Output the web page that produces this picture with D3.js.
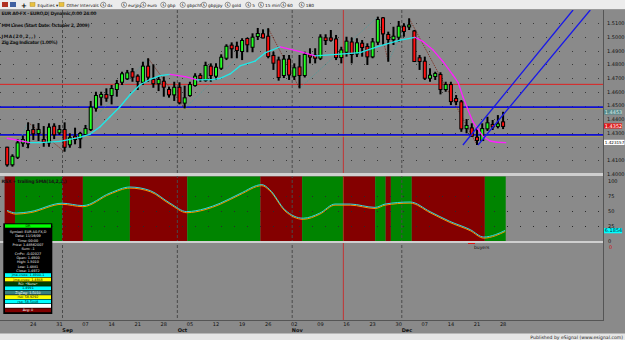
<!DOCTYPE html>
<html>
<head>
<meta charset="utf-8">
<script src="https://cdn.jsdelivr.net/npm/d3@7/dist/d3.min.js"></script>
<style>
body{margin:0;background:#8a8a8a;overflow:hidden}
text{font-family:"DejaVu Sans",sans-serif}
</style>
</head>
<body>
<svg id="chart" width="625" height="340"></svg>
<script>
// daily EUR candles, Aug 17 .. Dec 28 (index 0..95)
var opens  = [1.4193,1.4072,1.4127,1.4230,1.4225,1.4322,1.4300,1.4249,1.4232,1.4346,1.4305,1.4322,1.4218,1.4273,1.4262,1.4293,1.4329,1.4485,1.4565,1.4577,
              1.4577,1.4621,1.4674,1.4699,1.4743,1.4711,1.4674,1.4784,1.4687,1.4663,1.4674,1.4614,1.4582,1.4630,1.4522,1.4577,1.4650,1.4716,1.4687,1.4784,
              1.4718,1.4776,1.4849,1.4937,1.4929,1.4898,1.4986,1.4929,1.5007,1.5020,1.5002,1.4862,1.4829,1.4723,1.4835,1.4717,1.4778,1.4723,1.4866,1.4864,
              1.4849,1.4991,1.4990,1.4982,1.4854,1.4893,1.4960,1.4881,1.4951,1.4927,1.4859,1.4966,1.5136,1.5015,1.4985,1.5002,1.5075,1.5077,1.5040,1.4845,
              1.4820,1.4703,1.4716,1.4723,1.4621,1.4650,1.4548,1.4524,1.4336,1.4334,1.4266,1.4249,1.4334,1.4359,1.4352,1.4378];
var highs  = [1.4200,1.4145,1.4256,1.4281,1.4378,1.4364,1.4373,1.4351,1.4371,1.4371,1.4359,1.4378,1.4298,1.4339,1.4309,1.4359,1.4534,1.4601,1.4601,1.4626,
              1.4650,1.4687,1.4747,1.4760,1.4774,1.4728,1.4820,1.4845,1.4801,1.4711,1.4711,1.4638,1.4674,1.4670,1.4645,1.4674,1.4736,1.4736,1.4820,1.4808,
              1.4808,1.4874,1.4947,1.4961,1.4966,1.4991,1.4995,1.5027,1.5066,1.5056,1.5064,1.4893,1.4857,1.4869,1.4869,1.4808,1.4869,1.4893,1.4918,1.4918,
              1.5020,1.5020,1.5051,1.5015,1.4929,1.5002,1.4996,1.4991,1.4978,1.4954,1.4993,1.5148,1.5146,1.5039,1.5075,1.5117,1.5100,1.5136,1.5051,1.4869,
              1.4857,1.4772,1.4747,1.4743,1.4674,1.4674,1.4577,1.4541,1.4402,1.4371,1.4334,1.4371,1.4419,1.4395,1.4431,1.4455];
var lows   = [1.4055,1.4055,1.4111,1.4200,1.4189,1.4249,1.4242,1.4200,1.4200,1.4256,1.4286,1.4164,1.4193,1.4218,1.4189,1.4286,1.4315,1.4456,1.4500,1.4528,
              1.4509,1.4565,1.4650,1.4687,1.4674,1.4614,1.4650,1.4674,1.4630,1.4606,1.4565,1.4558,1.4534,1.4509,1.4480,1.4565,1.4638,1.4674,1.4674,1.4674,
              1.4687,1.4760,1.4832,1.4845,1.4845,1.4832,1.4889,1.4889,1.4978,1.4990,1.4845,1.4760,1.4682,1.4701,1.4687,1.4687,1.4626,1.4705,1.4808,1.4808,
              1.4832,1.4942,1.4966,1.4832,1.4808,1.4857,1.4808,1.4854,1.4857,1.4796,1.4845,1.4942,1.4942,1.4820,1.4942,1.4966,1.5002,1.5051,1.4818,1.4760,
              1.4687,1.4674,1.4687,1.4582,1.4601,1.4504,1.4504,1.4309,1.4298,1.4273,1.4213,1.4242,1.4315,1.4322,1.4334,1.4329];
var closes = [1.4072,1.4127,1.4225,1.4249,1.4315,1.4298,1.4322,1.4237,1.4339,1.4291,1.4322,1.4200,1.4262,1.4256,1.4293,1.4329,1.4485,1.4570,1.4577,1.4558,
              1.4621,1.4657,1.4728,1.4735,1.4711,1.4680,1.4784,1.4711,1.4663,1.4687,1.4638,1.4582,1.4630,1.4524,1.4553,1.4650,1.4711,1.4699,1.4789,1.4723,
              1.4776,1.4849,1.4929,1.4918,1.4905,1.4971,1.4947,1.4995,1.5022,1.4997,1.4862,1.4813,1.4708,1.4835,1.4727,1.4772,1.4723,1.4869,1.4858,1.4849,
              1.4996,1.4978,1.4980,1.4854,1.4902,1.4966,1.4876,1.4954,1.4927,1.4859,1.4961,1.5124,1.5027,1.4985,1.5002,1.5075,1.5044,1.5084,1.4825,1.4825,
              1.4703,1.4718,1.4730,1.4621,1.4650,1.4533,1.4533,1.4334,1.4351,1.4280,1.4249,1.4329,1.4371,1.4348,1.4363,1.4352];

var weekIdx    = [5,10,15,20,25,30,35,40,45,50,55,60,65,70,75,80,85,90,95];
var weekLabels = ["24","31","07","14","21","28","05","12","19","26","02","09","16","23","30","07","14","21","28"];
var monthIdx   = [11,33,55,76];
var monthNames = ["Sep","Oct","Nov","Dec"];

var priceTicks = [1.51,1.50,1.49,1.48,1.47,1.46,1.45,1.44,1.43,1.41];
var rsiTicks   = [100,75,50,25,0];

// JMA(20,2) line
var jmaIdx = [0,4.4,6.3,10.1,13.9,15.9,17.8,19.7,21.6,23.5,25.4,27.4,29.3,31.2,34.1,36.4,39.2,40.8,42.7,44.6,47.5,49.4,
              52.3,56.1,59.0,63.8,67.6,71.4,75.3,78.1,79.7,81.6,83.5,85.4,86.4,87.3,88.3,89.2,90.2,91.2,92.5,93.8,95.5];
var jmaVal = [1.4262,1.4230,1.4230,1.4239,1.4269,1.4293,1.4346,1.4419,1.4492,1.4577,1.4650,1.4692,1.4718,1.4728,1.4711,1.4687,1.4690,1.4698,1.4731,1.4789,1.4825,1.4884,
              1.4929,1.4893,1.4862,1.4876,1.4886,1.4935,1.4978,1.4998,1.4966,1.4905,1.4820,1.4723,1.4667,1.4565,1.4468,1.4383,1.4327,1.4274,1.4242,1.4233,1.4230];

// zig zag (1%) pivots
var zzIdx = [0,4,11,27,34,50,56,71,73,77,90];
var zzVal = [1.4055,1.4378,1.4164,1.4845,1.4480,1.5064,1.4626,1.5148,1.4820,1.5136,1.4213];

// MM lines
var mmVal   = [1.4655,1.4489,1.4286];
var mmColor = ["#e02020","#1010d0","#1010d0"];

// channel lines (two points each)
var chanIdxA = [87.3,108.4];
var chanIdxB = [90.2,111.7];
var chanVal  = [1.4213,1.5197];

// RSX + trailing SMA
var rsiIdx = [0,1.7,4.4,10.5,14.5,19.7,23.5,27.4,31.2,34.4,37.9,40.8,44.6,48.8,50.3,53.2,56.7,59.9,62.8,65.7,70.5,72.4,77.2,81,84.8,88.7,91.3,93.5,95.4];
var rsiVal = [50,45.6,48,62,58,79,89,83,62,48,53,62,78,93,84.5,51,37,45.6,60.6,60.6,55,60.6,64,48,31.7,18,5.6,9.5,16.7];
var regStart = [0,2,11,15,24,35,49,57,65,71,73,74,78,92];
var regEnd   = [1,10,14,23,34,48,56,64,70,72,73,77,91,95];
var regUp    = [0,1,0,1,0,1,0,1,0,1,0,1,0,1];

var cursorIdx = 64.4;

var svg = d3.select("#chart");
var x = d3.scaleLinear().domain([0,95]).range([7.2,503.1]);
var yP = d3.scaleLinear().domain([1.40,1.51]).range([174.2,23.3]);
var yR = d3.scaleLinear().domain([0,100]).range([240.7,180.7]);
var plotRight = 603;

// panes background
svg.append("rect").attr("x",0).attr("y",0).attr("width",625).attr("height",340).attr("fill","#8a8a8a");

var defs = svg.append("defs");
defs.append("clipPath").attr("id","clipMain").append("rect").attr("x",0).attr("y",10).attr("width",plotRight).attr("height",163);

// dotted grid main
svg.append("g").selectAll("line").data(d3.range(1.40,1.515,0.01)).enter().append("line")
  .attr("x1",0).attr("x2",plotRight).attr("y1",d=>Math.round(yP(d))+0.5).attr("y2",d=>Math.round(yP(d))+0.5)
  .attr("stroke","#3a3a3a").attr("stroke-dasharray","1,12").attr("stroke-width",1);

// RSI pane regions
var rsiG = svg.append("g");
rsiG.selectAll("rect").data(d3.range(regStart.length)).enter().append("rect")
  .attr("x",i=>x(regStart[i]-0.5)).attr("width",i=>x(regEnd[i]+0.5)-x(regStart[i]-0.5))
  .attr("y",176.5).attr("height",64.5)
  .attr("fill",i=>regUp[i]?"#008400":"#840000");
rsiG.selectAll(".g").data([25,50,75]).enter().append("line")
  .attr("x1",0).attr("x2",plotRight).attr("y1",d=>Math.round(yR(d))+0.5).attr("y2",d=>Math.round(yR(d))+0.5)
  .attr("stroke","#2a2a2a").attr("stroke-dasharray","1,12");

// month dividers
svg.append("g").selectAll("line").data(monthIdx).enter().append("line")
  .attr("x1",d=>x(d-0.5)+0.5).attr("x2",d=>x(d-0.5)+0.5).attr("y1",10).attr("y2",320)
  .attr("stroke","#4a4a4a").attr("stroke-dasharray","3,2");

// cursor line
svg.append("line").attr("x1",x(cursorIdx)).attr("x2",x(cursorIdx)).attr("y1",10).attr("y2",320)
  .attr("stroke","#d02020").attr("stroke-width",0.8);

var main = svg.append("g").attr("clip-path","url(#clipMain)");

// MM lines
main.selectAll(".mm").data(mmVal).enter().append("line")
  .attr("x1",0).attr("x2",plotRight).attr("y1",d=>yP(d)).attr("y2",d=>yP(d))
  .attr("stroke",(d,i)=>mmColor[i]).attr("stroke-width",(d,i)=>i==0?1:1.8);
main.selectAll(".mm2").data(mmVal.slice(1)).enter().append("line")
  .attr("x1",0).attr("x2",plotRight).attr("y1",d=>yP(d)+1.6).attr("y2",d=>yP(d)+1.6)
  .attr("stroke","#b0a050").attr("stroke-width",0.7);

// zig zag
for (var k=0;k<zzIdx.length-1;k++){
  var up = zzVal[k+1]>zzVal[k];
  main.append("line").attr("x1",x(zzIdx[k])).attr("y1",yP(zzVal[k])).attr("x2",x(zzIdx[k+1])).attr("y2",yP(zzVal[k+1]))
    .attr("stroke",up?"#4f9a9a":"#7a2a1a").attr("stroke-width",0.8).attr("stroke-dasharray","1.5,1");
}

// candles
var bars = main.selectAll(".c").data(d3.range(opens.length)).enter().append("g");
bars.append("line").attr("x1",i=>x(i)).attr("x2",i=>x(i))
  .attr("y1",i=>yP(highs[i])).attr("y2",i=>yP(lows[i]))
  .attr("stroke","#000").attr("stroke-width",2);
bars.append("rect").attr("x",i=>x(i)-1.5).attr("width",3)
  .attr("y",i=>yP(Math.max(opens[i],closes[i]))-0.5)
  .attr("height",i=>Math.abs(yP(opens[i])-yP(closes[i]))+1)
  .attr("fill",i=>closes[i]>=opens[i]?"#22ff22":"#ff1010")
  .attr("stroke","#000").attr("stroke-width",1);

// JMA coloured by slope
for (var k=0;k<jmaIdx.length-1;k++){
  main.append("line").attr("x1",x(jmaIdx[k])).attr("y1",yP(jmaVal[k])).attr("x2",x(jmaIdx[k+1])).attr("y2",yP(jmaVal[k+1]))
    .attr("stroke",jmaVal[k+1]>=jmaVal[k]?"#20e8e8":"#ff20ff").attr("stroke-width",1.3).attr("stroke-linecap","round");
}

// channel lines
[chanIdxA,chanIdxB].forEach(function(c){
  main.append("line").attr("x1",x(c[0])).attr("y1",yP(chanVal[0])).attr("x2",x(c[1])).attr("y2",yP(chanVal[1]))
    .attr("stroke","#1818e8").attr("stroke-width",1.3);
});

// RSI line
var rl = d3.line().x((d,i)=>x(rsiIdx[i])).y(d=>yR(d)).curve(d3.curveMonotoneX);
svg.append("path").attr("d",rl(rsiVal)).attr("transform","translate(0,0.8)").attr("fill","none").attr("stroke","#ff9000").attr("stroke-width",1);
svg.append("path").attr("d",rl(rsiVal)).attr("transform","translate(0,-0.3)").attr("fill","none").attr("stroke","#30d8e0").attr("stroke-width",1);

// separators
svg.append("rect").attr("x",0).attr("y",173).attr("width",plotRight).attr("height",3).attr("fill","#cfcfcf");
svg.append("rect").attr("x",0).attr("y",241).attr("width",plotRight).attr("height",2).attr("fill","#cfcfcf");
svg.append("line").attr("x1",plotRight+0.5).attr("x2",plotRight+0.5).attr("y1",10).attr("y2",321).attr("stroke","#555");
svg.append("line").attr("x1",0).attr("x2",plotRight).attr("y1",320.5).attr("y2",320.5).attr("stroke","#555");

// right axis labels
var ax = svg.append("g").attr("font-size","5px").attr("fill","#111");
ax.selectAll(".p").data(priceTicks).enter().append("text")
  .attr("x",607).attr("y",d=>yP(d)+1.8).text(d=>d.toFixed(4));
ax.append("text").attr("x",607).attr("y",176).text("1.4000");
ax.selectAll(".r").data(rsiTicks).enter().append("text")
  .attr("x",608).attr("y",d=>yR(d)+1.8).text(d=>d);

// value tags
function tag(y,txt,bg,fg,w,fs){
  svg.append("rect").attr("x",604).attr("y",y-2.6).attr("width",w).attr("height",5.2).attr("fill",bg);
  svg.append("text").attr("x",604.8).attr("y",y+1.7).attr("font-size",(fs||5)+"px").attr("fill",fg).text(txt);
}
tag(yP(1.4453),"1.4453","#5a8a8a","#d8e8e8",18);
tag(yP(closes[95]),closes[95].toFixed(4),"#e01818","#fff",18);
tag(yP(1.4232),"1.423157","#ffffff","#000",20.5,4.1);
tag(yR(16.7),"6.1854","#00ffff","#003040",18);
svg.append("text").attr("x",609).attr("y",249).attr("font-size","5px").attr("fill","#d01010").text("0");

// x axis
var xa = svg.append("g").attr("font-size","5px").attr("fill","#111").attr("text-anchor","middle");
xa.selectAll(".w").data(weekIdx).enter().append("text").attr("x",d=>x(d)).attr("y",326).text((d,i)=>weekLabels[i]);
xa.selectAll(".m").data(monthIdx).enter().append("text").attr("x",d=>x(d)+3).attr("y",332).attr("font-weight","bold").text((d,i)=>monthNames[i]);

// footer
svg.append("rect").attr("x",0).attr("y",333.5).attr("width",625).attr("height",6.5).attr("fill","#e6e6e6");
svg.append("text").attr("x",623).attr("y",339).attr("text-anchor","end").attr("font-size","4.6px").attr("fill","#222").text("Published by eSignal (www.esignal.com)");

// study titles
var tt = svg.append("g").attr("font-size","4.6px").attr("fill","#161616").attr("font-weight","bold");
tt.append("text").attr("x",1.5).attr("y",14.5).attr("textLength",95).text("EUR A0-FX - EURO,D| Dynamic,0:00 24:00");
tt.append("text").attr("x",1.5).attr("y",26.5).attr("textLength",88).text("MM Lines (Start Date: October 2, 2009)");
tt.append("text").attr("x",1.5).attr("y",37.5).attr("textLength",34).text("JMA(20,2,,)");
tt.append("text").attr("x",1.5).attr("y",44.3).attr("textLength",56).text("Zig Zag Indicator (1.00%)");
tt.append("text").attr("x",1.5).attr("y",182.8).attr("textLength",65).text("RSX + trailing SMA(14,2,2,)");
svg.append("line").attr("x1",468).attr("x2",475).attr("y1",243.5).attr("y2",243.5).attr("stroke","#e01010");
svg.append("text").attr("x",474).attr("y",248.6).attr("font-size","4.5px").attr("fill","#111").text("buyers");

// data window
var dw = svg.append("g");
dw.append("rect").attr("x",3.3).attr("y",223.3).attr("width",49).attr("height",90.7).attr("fill","#000");
var dwRows = ["Symbol: EUR A0-FX,D","Date: 11/16/09","Time: 00:00","Price: 1.48562007","Sum: -1","CrrPc: -0.02027","Open: 1.4900","High: 1.5010","Low: 1.4881","Close: 1.4972"];
var dwBands = [["jma.cross: 1.4900.1","#00ffff","#000"],["jma.cross: 1.4868","#ffff00","#000"],["RO: •None•","#004000","#fff"],["1.4991","#00ffff","#000"],
               ["ZigZag: 1.5010","#3a8080","#fff"],["rsx: 58.9292","#ffff00","#000"],["rsx: 58.5008","#00ffff","#000"],["","#ffffff","#000"],["Avg: 0","#800000","#fff"]];
dw.append("rect").attr("x",5).attr("y",224.3).attr("width",46).attr("height",3.4).attr("fill","#00ff00");
dw.append("text").attr("x",28).attr("y",227.3).attr("font-size","3.5px").attr("text-anchor","middle").attr("fill","#000").text("DR");
dw.selectAll(".row").data(dwRows).enter().append("text")
  .attr("x",28).attr("y",(d,i)=>233+i*4.35).attr("font-size","3.4px").attr("fill","#eee").attr("text-anchor","middle").text(d=>d);
dwBands.forEach(function(b,i){
  var yy = 273.2+i*4.4;
  dw.append("rect").attr("x",5).attr("y",yy).attr("width",46).attr("height",3.8).attr("fill",b[1]);
  dw.append("text").attr("x",28).attr("y",yy+3).attr("font-size","3.3px").attr("fill",b[2]).attr("text-anchor","middle").text(b[0]);
});

// toolbar
var tb = svg.append("g");
tb.append("rect").attr("x",0).attr("y",0).attr("width",625).attr("height",9.5).attr("fill","#ececec");
tb.append("line").attr("x1",0).attr("x2",625).attr("y1",9.5).attr("y2",9.5).attr("stroke","#9a9a9a");
tb.append("rect").attr("x",2).attr("y",2).attr("width",6).attr("height",5).attr("fill","#b03020");
tb.append("rect").attr("x",10).attr("y",2).attr("width",6).attr("height",5).attr("fill","#4060a0");
tb.append("text").attr("x",21).attr("y",7.5).attr("font-size","7px").attr("font-weight","bold").text("+");
var folders = [[30,"Equities ▾"],[59,"Other Intervals ▾"]];
folders.forEach(function(f){
  tb.append("rect").attr("x",f[0]).attr("y",2.5).attr("width",5).attr("height",4).attr("fill","#e8c040").attr("stroke","#a08020").attr("stroke-width",0.4);
  tb.append("text").attr("x",f[0]+7.5).attr("y",6.6).attr("font-size","4.3px").attr("fill","#111").text(f[1]);
});
var btnNames = ["dx","eurjpy","euro","gbp","gbpchf","gbpjpy","gold","5","15 min","60","180"];
var btnX = [103.3,124,143.3,163.3,182.7,204,227.7,248.3,261,283.3,301.7];
btnNames.forEach(function(n,i){
  tb.append("circle").attr("cx",btnX[i]).attr("cy",4.8).attr("r",2.6).attr("fill","#f4f4f4").attr("stroke","#333").attr("stroke-width",0.5);
  tb.append("text").attr("x",btnX[i]).attr("y",6.2).attr("font-size","3.6px").attr("text-anchor","middle").text("$");
  tb.append("text").attr("x",btnX[i]+4).attr("y",6.6).attr("font-size","4.3px").attr("fill","#111").text(n);
});
</script>
</body>
</html>
